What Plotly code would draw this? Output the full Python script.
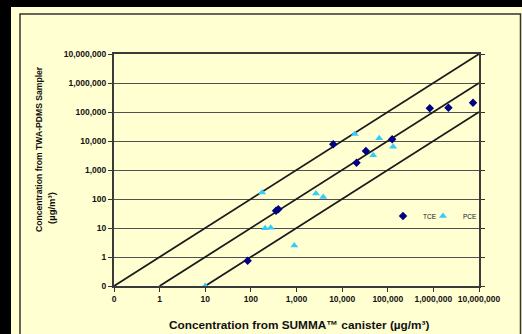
import plotly.graph_objects as go

# ---- data ----
tce_x = [85, 356, 400, 6380, 20700, 33200, 125000, 834000, 2140000, 7400000]
tce_y = [0.74, 39.5, 44, 7700, 1790, 4520, 11500, 134000, 140000, 209000]

pce_x = [10, 176, 205, 272, 895, 2670, 3850, 19000, 64900, 131000, 48000]
pce_y = [0.1, 167, 9.8, 10.2, 2.5, 155, 117, 17400, 12400, 6360, 3210]

# reference ratio lines (1:1, 1:10, 1:100), endpoints
ref_x = [[0.1, 1e7], [1, 1e7], [10, 1e7]]
ref_y = [[0.1, 1e7], [0.1, 1e6], [0.1, 1e5]]

tick_vals = [0.1, 1, 10, 100, 1000, 1e4, 1e5, 1e6, 1e7]
tick_text = ["0", "1", "10", "100", "1,000", "10,000", "100,000", "1,000,000", "10,000,000"]

x_title = "Concentration from SUMMA\u2122 canister (\u00b5g/m\u00b3)"
y_title_1 = "Concentration from TWA-PDMS Sampler"
y_title_2 = "(\u00b5g/m\u00b3)"

# ---- layout geometry ----
W, H = 522, 334
ML, MR, MT, MB = 114, 43, 54, 48
PW, PH = W - ML - MR, H - MT - MB


def px(x):
    return (x - ML) / PW


def py(y):
    return (H - MB - y) / PH


BG = "#FFFFD2"
FONT = "Liberation Sans, Arial, sans-serif"

fig = go.Figure()
for lx, ly in zip(ref_x, ref_y):
    fig.add_trace(go.Scatter(x=lx, y=ly, mode="lines", showlegend=False,
                             line=dict(color="#1a1a1a", width=1.8), hoverinfo="skip"))

fig.add_trace(go.Scatter(x=tce_x, y=tce_y, mode="markers", name="TCE", legend="legend",
                         marker=dict(symbol="diamond", size=6.5, color="#000080")))
fig.add_trace(go.Scatter(x=pce_x, y=pce_y, mode="markers", name="PCE", legend="legend2",
                         marker=dict(symbol="triangle-up", size=7, color="#33CCFF")))

axis_common = dict(type="log", range=[-1, 7], tickmode="array", tickvals=tick_vals,
                   ticktext=tick_text, ticks="outside", ticklen=4, tickwidth=1.2,
                   tickcolor="#333", linecolor="#3a3a3a", linewidth=2,
                   tickfont=dict(family=FONT, size=8.5, color="#111", weight="bold"))

fig.update_xaxes(**axis_common, showgrid=False, mirror=True)
fig.update_yaxes(**axis_common, showgrid=True, gridcolor="#505050", gridwidth=1.3,
                 mirror="ticks")

shapes = [
    # black outer strips
    dict(type="rect", xref="paper", yref="paper", x0=px(0), x1=px(W), y0=py(7), y1=py(0),
         fillcolor="black", line=dict(width=0), layer="above"),
    dict(type="rect", xref="paper", yref="paper", x0=px(0), x1=px(11), y0=py(H), y1=py(0),
         fillcolor="black", line=dict(width=0), layer="above"),
    # inner frame
    dict(type="rect", xref="paper", yref="paper", x0=px(20), x1=px(520.5), y0=py(H + 6),
         y1=py(14), line=dict(color="#333", width=1.5), layer="above"),
]

annotations = [
    dict(text=x_title, xref="paper", yref="paper", x=px(299), y=py(325), showarrow=False,
         xanchor="center", yanchor="middle",
         font=dict(family=FONT, size=11.8, color="#111", weight="bold")),
    dict(text=y_title_1, xref="paper", yref="paper", x=px(39), y=py(149), showarrow=False,
         xanchor="center", yanchor="middle", textangle=-90,
         font=dict(family=FONT, size=8.6, color="#111", weight="bold")),
    dict(text=y_title_2, xref="paper", yref="paper", x=px(51), y=py(208), showarrow=False,
         xanchor="center", yanchor="middle", textangle=-90,
         font=dict(family=FONT, size=9.5, color="#111", weight="bold")),
]

legend_common = dict(orientation="h", xanchor="left", yanchor="middle",
                     bgcolor="rgba(0,0,0,0)", itemwidth=30,
                     font=dict(family=FONT, size=6.5, color="#111"))

fig.update_layout(
    width=W, height=H,
    margin=dict(l=ML, r=MR, t=MT, b=MB, autoexpand=False),
    paper_bgcolor=BG, plot_bgcolor=BG,
    shapes=shapes, annotations=annotations,
    showlegend=True,
    legend=dict(x=px(383), y=py(216), **legend_common),
    legend2=dict(x=px(423), y=py(216), **legend_common),
)

fig.write_html(
    "out.html",
    config={"displayModeBar": False},
    post_script="document.body.style.margin='0px';document.body.style.padding='0px';"
                "document.body.style.overflow='hidden';",
)
